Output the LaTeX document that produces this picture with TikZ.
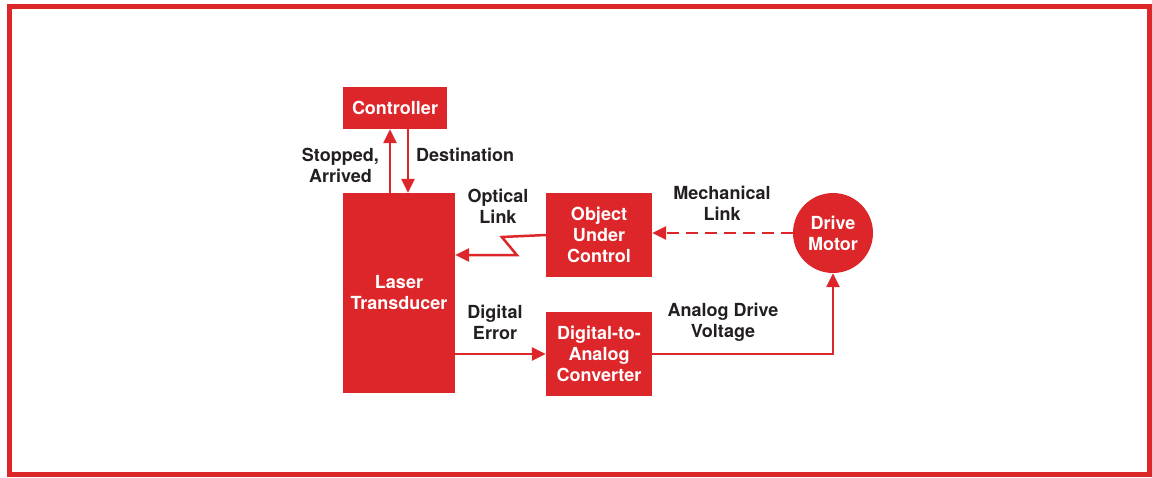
\documentclass[tikz,border=0pt]{standalone}
\usepackage{fontspec}
\setmainfont{TeX Gyre Heros}
\usetikzlibrary{arrows.meta}
\definecolor{hpred}{RGB}{221,38,42}
\definecolor{ink}{RGB}{35,31,32}
\tikzset{
  % a solid red block
  blk/.style  = {fill=hpred, text=white, align=center, inner sep=0pt,
                 font=\bfseries\fontsize{18}{21}\selectfont},
  % the round drive block
  disc/.style = {blk, circle, minimum size=80pt},
  % a signal path
  sig/.style  = {-{Triangle[length=14pt,width=13pt]}, hpred, line width=2.5pt},
  % a path label
  el/.style   = {text=ink, align=center, inner sep=0pt,
                 font=\bfseries\fontsize{18}{21}\selectfont},
}

\begin{document}
\begin{tikzpicture}[x=1pt, y=-1pt]
  \useasboundingbox (0,0) rectangle (1152,477);
  \draw[hpred, line width=5pt] (9,6.5) rectangle (1149.5,474.5);
  % blocks
  \node[blk, minimum width=104pt, minimum height=42pt] (ctrl)  at (395,108) {Controller};
  \node[blk, minimum width=112pt, minimum height=200pt] (laser) at (399,293) {Laser\\Transducer};
  \node[blk, minimum width=106pt, minimum height=84pt] (obj)   at (599,235) {Object\\Under\\Control};
  \node[blk, minimum width=106pt, minimum height=84pt] (dac)   at (599,354) {Digital-to-\\Analog\\Converter};
  \node[disc] (motor) at (833,233) {Drive\\Motor};
  % controller link
  \coordinate (up) at ([xshift=-9pt]laser.north);
  \coordinate (dn) at ([xshift=13pt]ctrl.south);
  \draw[sig] (up) -- (up |- ctrl.south);
  \draw[sig] (dn) -- (dn |- laser.north);
  \node[el, anchor=east] (stp) at (379,165) {Stopped,\\Arrived};
  \node[el, anchor=west] (dst) at (416,155) {Destination};
  % optical link
  \draw[sig] (obj.west) -- ++(-44,2) coordinate (z1) -- ++(15,18) coordinate (z2)
             -- (z2 -| laser.east);
  \node[el] (opt) at (498,206) {Optical\\Link};
  % mechanical link
  \draw[sig, dash pattern=on 12pt off 7pt] (motor.west) -- (motor.west -| obj.east);
  \node[el] (mech) at (722,203) {Mechanical\\Link};
  % error path
  \draw[sig] (laser.east |- dac.west) -- (dac.west);
  \node[el] (err) at (495,322) {Digital\\Error};
  \draw[sig] (dac.east) -| (motor.south);
  \node[el] (volt) at (723,322) {Analog Drive\\Voltage};
\end{tikzpicture}
\end{document}
